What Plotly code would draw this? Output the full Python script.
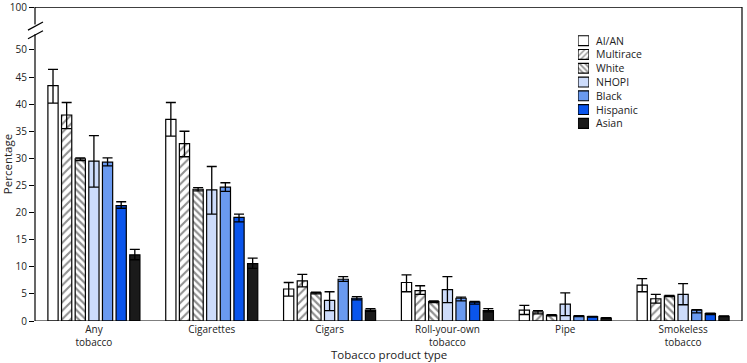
import plotly.graph_objects as go

categories = ["Any<br>tobacco", "Cigarettes", "Cigars", "Roll-your-own<br>tobacco", "Pipe", "Smokeless<br>tobacco"]
groups = ["AI/AN", "Multirace", "White", "NHOPI", "Black", "Hispanic", "Asian"]

values = {
    "AI/AN":     [43.4, 37.2, 5.9, 7.1, 2.0, 6.6],
    "Multirace": [38.0, 32.7, 7.4, 5.6, 1.7, 4.1],
    "White":     [29.9, 24.3, 5.2, 3.6, 1.05, 4.6],
    "NHOPI":     [29.5, 24.2, 3.8, 5.8, 3.1, 4.9],
    "Black":     [29.3, 24.7, 7.7, 4.2, 0.9, 2.0],
    "Hispanic":  [21.3, 19.1, 4.2, 3.5, 0.8, 1.35],
    "Asian":     [12.2, 10.6, 2.0, 1.9, 0.55, 0.85],
}
ci_upper = {
    "AI/AN":     [46.4, 40.3, 7.1, 8.5, 2.9, 7.8],
    "Multirace": [40.3, 35.0, 8.6, 6.5, 1.9, 4.9],
    "White":     [30.1, 24.6, 5.3, 3.7, 1.15, 4.7],
    "NHOPI":     [34.2, 28.5, 5.4, 8.2, 5.2, 6.9],
    "Black":     [30.1, 25.5, 8.2, 4.4, 1.0, 2.1],
    "Hispanic":  [22.0, 19.7, 4.5, 3.6, 0.85, 1.45],
    "Asian":     [13.2, 11.6, 2.3, 2.3, 0.6, 0.95],
}
ci_lower = {
    "AI/AN":     [40.2, 34.1, 4.6, 5.4, 1.2, 5.4],
    "Multirace": [35.5, 30.3, 6.3, 4.9, 1.3, 3.3],
    "White":     [29.6, 24.0, 5.0, 3.4, 0.95, 4.5],
    "NHOPI":     [24.7, 19.7, 1.9, 3.4, 1.0, 3.0],
    "Black":     [28.6, 23.9, 7.3, 3.7, 0.8, 1.5],
    "Hispanic":  [20.8, 18.3, 3.9, 3.1, 0.7, 1.2],
    "Asian":     [11.3, 9.7, 1.8, 1.7, 0.5, 0.8],
}

y_ticks = [0, 5, 10, 15, 20, 25, 30, 35, 40, 45, 50]
top_value_label = "100"
Y_TOP = 57.9  # axis position standing in for 100 above the break

fills = {
    "AI/AN": "white",
    "Multirace": "white",
    "White": "white",
    "NHOPI": "#cddcfb",
    "Black": "#6a9af0",
    "Hispanic": "#0a55ec",
    "Asian": "#1a1a1a",
}
patterns = {
    "Multirace": dict(shape="/", fgcolor="#222", bgcolor="white", size=6, solidity=0.35),
    "White": dict(shape="\\", fgcolor="#222", bgcolor="white", size=5, solidity=0.45),
}

FONT = "Open Sans"
fig = go.Figure()
for g in groups:
    v = values[g]
    up = [u - x for u, x in zip(ci_upper[g], v)]
    lo = [x - l for l, x in zip(ci_lower[g], v)]
    marker = dict(color=fills[g], line=dict(color="black", width=1.2))
    if g in patterns:
        marker["pattern"] = patterns[g]
    fig.add_trace(go.Bar(
        name=g, x=categories, y=v, marker=marker, showlegend=False,
        error_y=dict(type="data", symmetric=False, array=up, arrayminus=lo,
                     color="black", thickness=1.3, width=5),
    ))

# Legend: swatches drawn as bars on an auxiliary axis pair, labels as annotations
annotations = []
for i, g in enumerate(groups):
    marker = dict(color=fills[g], line=dict(color="black", width=1.2))
    if g in patterns:
        marker["pattern"] = dict(patterns[g], size=4)
    fig.add_trace(go.Bar(
        x=[1], y=[i], orientation="h", width=0.72, marker=marker,
        xaxis="x2", yaxis="y2", showlegend=False, hoverinfo="skip",
    ))
    annotations.append(dict(text=g, xref="paper", yref="y2", x=0.792, y=i,
                            xanchor="left", yanchor="middle", showarrow=False,
                            borderpad=0,
                            font=dict(size=10.5, family=FONT, color="#222")))

annotations.append(dict(text="Tobacco product type", xref="paper", yref="paper",
                        x=0.5, y=-0.108, xanchor="center", yanchor="middle",
                        showarrow=False, borderpad=0,
                        font=dict(size=11.5, family=FONT, color="#222")))

shapes = []
# left axis with break
shapes.append(dict(type="line", xref="paper", yref="y", x0=0, x1=0, y0=0, y1=52.9, line=dict(color="black", width=1.2)))
shapes.append(dict(type="line", xref="paper", yref="y", x0=0, x1=0, y0=54.7, y1=Y_TOP, line=dict(color="black", width=1.2)))
# break marks
for yb in (52.8, 54.4):
    shapes.append(dict(type="line", xref="paper", yref="y", xsizemode="pixel", xanchor=0,
                       x0=-7, x1=8, y0=yb - 0.75, y1=yb + 0.75, line=dict(color="black", width=1.2)))
# top, right, bottom frame
shapes.append(dict(type="line", xref="paper", yref="y", x0=0, x1=1, y0=Y_TOP, y1=Y_TOP, line=dict(color="black", width=1.2)))
shapes.append(dict(type="line", xref="paper", yref="y", x0=1, x1=1, y0=0, y1=Y_TOP, line=dict(color="black", width=1.2)))
shapes.append(dict(type="line", xref="paper", yref="y", x0=0, x1=1, y0=0, y1=0, line=dict(color="black", width=1.2)))

fig.update_layout(
    width=747, height=363,
    margin=dict(l=35, r=5, t=7, b=42, autoexpand=False),
    paper_bgcolor="white", plot_bgcolor="white",
    font=dict(family=FONT, size=10, color="#222"),
    barmode="group", bargap=0.19, bargroupgap=0.25,
    shapes=shapes, annotations=annotations,
    showlegend=False,
    xaxis=dict(showline=False, ticks="", showgrid=False, automargin=False,
               ticklabelstandoff=1, tickfont=dict(size=10)),
    yaxis=dict(range=[0, Y_TOP + 0.02], tickvals=y_ticks + [Y_TOP],
               ticktext=[str(t) for t in y_ticks] + [top_value_label],
               showline=False, ticks="outside", ticklen=5, tickcolor="black",
               showgrid=False, zeroline=False, automargin=False,
               ticklabeloverflow="allow",
               title=dict(text="Percentage", font=dict(size=11.5), standoff=4),
               tickfont=dict(size=10)),
    xaxis2=dict(domain=[0.768, 0.7836], range=[0, 1], visible=False, anchor="y2",
                fixedrange=True),
    yaxis2=dict(domain=[0.6076, 0.9146], range=[6.5, -0.5], visible=False, anchor="x2",
                fixedrange=True),
)
fig.write_html("out.html", config={"displayModeBar": False},
               post_script="document.body.style.margin='0';document.body.style.padding='0';")
